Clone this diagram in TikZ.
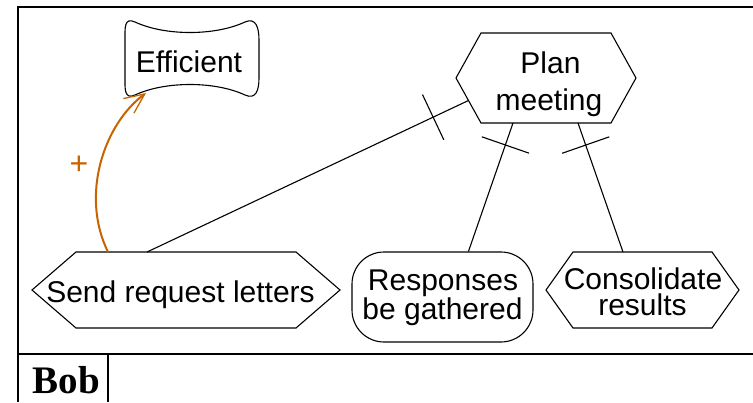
\documentclass[tikz,border=0pt]{standalone}
\usepackage{fontspec}
\setmainfont{Liberation Sans}
\newfontfamily\bobfont{Liberation Serif}
\usetikzlibrary{calc,arrows.meta}
\definecolor{contribcol}{RGB}{200,100,0}
\begin{document}
\begin{tikzpicture}[x=1pt,y=-1pt,
  shapebox/.style={draw=none,inner sep=0pt,outer sep=0pt},
  outline/.style={draw=black,line width=1.1pt,line join=miter},
  txt/.style={inner sep=0pt,anchor=base,font=\fontsize{30}{36}\selectfont},
  link/.style={draw=black,line width=1.1pt},
  tickbar/.style={draw=black,line width=1.1pt},
  contrib/.style={draw=contribcol,line width=2pt,-{Straight Barb[length=20pt,width=18pt,line width=1.3pt]}},
  frame/.style={draw=black,line width=1.2pt}]
\useasboundingbox (0,0) rectangle (753,402);

% lane frame
\draw[frame] (18,402) -- (18,7) -- (753,7);
\draw[frame] (18,354) -- (753,354);
\draw[frame] (108,354) -- (108,402);
\node[inner sep=0pt,anchor=base,font=\bobfont\bfseries\fontsize{39}{44}\selectfont] (bob) at (66.5,393) {Bob};

% Efficient (softgoal)
\node[shapebox,minimum width=134pt,minimum height=76pt] (eff) at (192,59) {};
\draw[outline] (135,22) .. controls (165,36) and (215,36) .. (245,22)
  .. controls (256,17) and (259,28) .. (259,40) -- (259,78)
  .. controls (259,90) and (256,100) .. (245,95)
  .. controls (215,81) and (165,81) .. (135,95)
  .. controls (124,100) and (125,88) .. (125,78) -- (125,40)
  .. controls (125,28) and (124,17) .. (135,22) -- cycle;
\node[txt] (efft) at (189,72) {Efficient};

% Plan meeting
\node[shapebox,minimum width=180pt,minimum height=90pt] (pm) at (546,78) {};
\draw[outline] ([xshift=25pt]pm.north west) -- ([xshift=-25pt]pm.north east) -- (pm.east)
  -- ([xshift=-25pt]pm.south east) -- ([xshift=25pt]pm.south west) -- (pm.west) -- cycle;
\node[txt] (pmt1) at (550.5,73) {Plan};
\node[txt] (pmt2) at (549,110) {meeting};

% Send request letters
\node[shapebox,minimum width=308pt,minimum height=76pt] (srl) at (186,290) {};
\draw[outline] ([xshift=44pt]srl.north west) -- ([xshift=-44pt]srl.north east) -- (srl.east)
  -- ([xshift=-44pt]srl.south east) -- ([xshift=44pt]srl.south west) -- (srl.west) -- cycle;
\node[txt] (srlt) at (180.5,302) {Send request letters};

% Responses be gathered
\node[draw=black,line width=1.1pt,rounded corners=32pt,minimum width=181pt,minimum height=90pt,inner sep=0pt] (rg) at (442.5,297) {};
\node[txt] (rgt1) at (443,290) {Responses};
\node[txt] (rgt2) at (442.5,319) {be gathered};

% Consolidate results
\node[shapebox,minimum width=193pt,minimum height=76pt] (cr) at (642.5,290) {};
\draw[outline] ([xshift=27pt]cr.north west) -- ([xshift=-27pt]cr.north east) -- (cr.east)
  -- ([xshift=-27pt]cr.south east) -- ([xshift=27pt]cr.south west) -- (cr.west) -- cycle;
\node[txt] (crt1) at (643,289) {Consolidate};
\node[txt] (crt2) at (642.5,315) {results};

% connector end points
\coordinate (srlA) at ($(srl.north west)+(115,0)$);
\coordinate (srlB) at ($(srl.north west)+(76,0)$);
\coordinate (pmL) at ($(pm.west)!0.5!(pm.south west)+(12.5,0)$);
\coordinate (pmB1) at ($(pm.south west)+(57,0)$);
\coordinate (pmB2) at ($(pm.south west)+(122,0)$);
\coordinate (rgT) at ($(rg.north west)+(117,0)$);
\coordinate (crT) at ($(cr.north west)+(77,0)$);
\coordinate (effB) at ($(eff.south west)+(21,-4)$);

% links with bars
\draw[link] (srlA) -- (pmL) coordinate[pos=0.89] (t1);
\draw[link] (pmB1) -- (rgT) coordinate[pos=0.171] (t2);
\draw[link] (pmB2) -- (crT) coordinate[pos=0.171] (t3);
\draw[tickbar] ($(t1)!25pt!90:(pmL)$) -- ($(t1)!25pt!-90:(pmL)$);
\draw[tickbar] ($(t2)!25pt!90:(rgT)$) -- ($(t2)!25pt!-90:(rgT)$);
\draw[tickbar] ($(t3)!25pt!90:(crT)$) -- ($(t3)!25pt!-90:(crT)$);

% contribution
\draw[contrib] (srlB) .. controls (80,195) and (104,124) .. (effB);
\node[inner sep=0pt,text=contribcol,font=\fontsize{32}{36}\selectfont] (plus) at (79,165) {+};
\end{tikzpicture}
\end{document}
